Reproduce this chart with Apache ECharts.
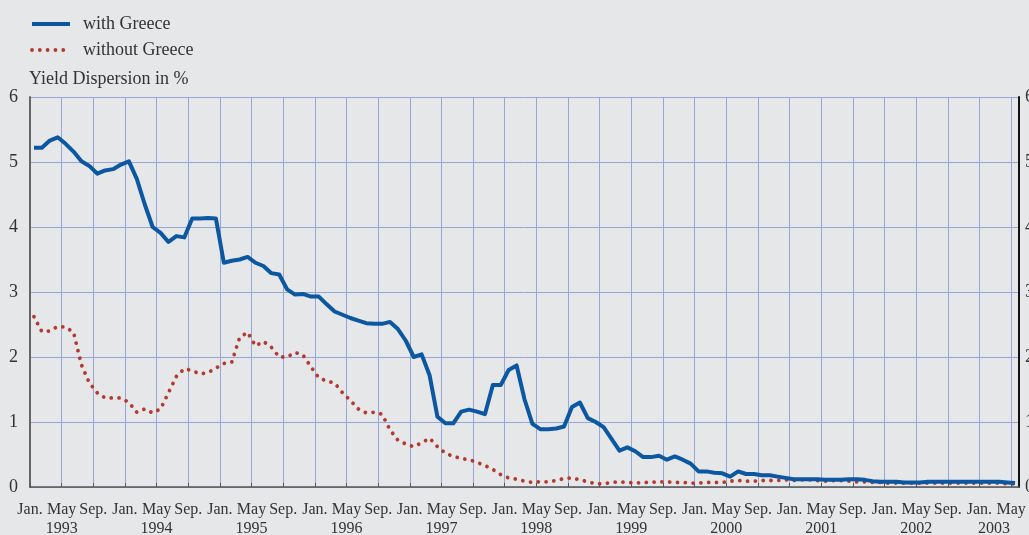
<!DOCTYPE html>
<html>
<head>
<meta charset="utf-8">
<script src="https://cdn.jsdelivr.net/npm/echarts@6/dist/echarts.min.js"></script>
<style>
html,body{margin:0;padding:0;background:#e6e7e9;}
#chart{width:1029px;height:535px;}
</style>
</head>
<body>
<div id="chart"></div>
<script>
// monthly yield dispersion, Jan. 1993 .. May 2003
var startYear = 1993;
var monthNames = ['Jan.', '', '', '', 'May', '', '', '', 'Sep.', '', '', ''];
var withGreece = [
  5.22,5.22,5.33,5.38,5.28,5.16,5.01,4.94,4.82,4.87,4.89,4.96,
  5.01,4.74,4.35,4.00,3.91,3.77,3.86,3.84,4.13,4.13,4.14,4.13,
  3.45,3.48,3.50,3.54,3.45,3.40,3.29,3.27,3.04,2.96,2.97,2.93,
  2.93,2.81,2.70,2.65,2.60,2.56,2.52,2.51,2.51,2.54,2.43,2.25,
  2.00,2.04,1.72,1.08,0.98,0.98,1.16,1.19,1.16,1.12,1.57,1.57,
  1.80,1.87,1.35,0.97,0.89,0.89,0.90,0.93,1.23,1.30,1.06,1.00,
  0.92,0.74,0.56,0.61,0.55,0.46,0.46,0.48,0.42,0.47,0.42,0.36,
  0.24,0.24,0.22,0.21,0.16,0.24,0.20,0.20,0.18,0.18,0.16,0.14,
  0.12,0.12,0.12,0.12,0.11,0.11,0.11,0.12,0.12,0.11,0.09,0.08,
  0.08,0.08,0.07,0.07,0.07,0.08,0.08,0.08,0.08,0.08,0.08,0.08,
  0.08,0.08,0.08,0.07,0.06
];
var withoutGreece = [
  2.62,2.39,2.40,2.47,2.46,2.38,1.88,1.60,1.45,1.37,1.37,1.37,
  1.30,1.15,1.20,1.14,1.20,1.45,1.70,1.82,1.79,1.74,1.76,1.83,
  1.90,1.92,2.30,2.38,2.17,2.24,2.15,2.00,2.00,2.07,2.03,1.85,
  1.68,1.63,1.60,1.45,1.33,1.20,1.14,1.15,1.12,0.88,0.72,0.66,
  0.62,0.68,0.75,0.62,0.52,0.47,0.44,0.42,0.38,0.33,0.27,0.19,
  0.14,0.12,0.09,0.07,0.08,0.08,0.10,0.13,0.14,0.11,0.08,0.05,
  0.05,0.07,0.08,0.07,0.06,0.07,0.07,0.08,0.08,0.07,0.07,0.06,
  0.06,0.07,0.07,0.07,0.09,0.10,0.09,0.09,0.10,0.10,0.10,0.11,
  0.10,0.11,0.11,0.10,0.09,0.10,0.10,0.09,0.08,0.08,0.07,0.07,
  0.06,0.06,0.06,0.06,0.06,0.06,0.06,0.06,0.06,0.06,0.06,0.06,
  0.06,0.06,0.06,0.05,0.05
];
var yTicks = [0, 1, 2, 3, 4, 5, 6];

var font = '"Liberation Serif", "DejaVu Serif", serif';
var gridColor = '#97a5d8';
var blue = '#0b57a1';
var red = '#b23a30';
var blueLine = {color:blue, width:4, join:'round'};
var redLine = {color:red, width:3.8, type:[0.01, 7.8], cap:'round'};
var lastMonth = withGreece.length - 1;

// each monthly value sits in the middle of its month
function toPoints(arr){
  var out = [];
  for(var i=0;i<arr.length;i++) out.push([i + 0.5, arr[i]]);
  return out;
}

var chart = echarts.init(document.getElementById('chart'));
chart.setOption({
  backgroundColor:'#e6e7e9',
  animation:false,
  title:{
    text:'Yield Dispersion in %',
    left:24, top:65,
    textStyle:{fontFamily:font, fontSize:18, fontWeight:'normal', color:'#333'}
  },
  legend:{
    orient:'vertical',
    left:25, top:10,
    itemWidth:38, itemHeight:14, itemGap:8,
    itemStyle:{color:'rgba(0,0,0,0)', borderColor:'rgba(0,0,0,0)', borderWidth:0},
    textStyle:{fontFamily:font, fontSize:18, color:'#333', padding:[0,0,0,8]},
    data:[
      {name:'with Greece', lineStyle:blueLine},
      {name:'without Greece', lineStyle:redLine}
    ]
  },
  grid:{left:30, right:10, top:97, bottom:48, outerBoundsMode:'none', containLabel:false},
  xAxis:{
    type:'value',
    min:0, max:125, interval:4,
    axisLine:{show:true, onZero:false, lineStyle:{color:'#555', width:1.5}},
    axisTick:{show:true, inside:true, length:4, lineStyle:{color:'#555'}},
    splitLine:{show:true, lineStyle:{color:gridColor, width:1}},
    axisLabel:{
      fontFamily:font, fontSize:16, color:'#333', margin:13, lineHeight:19,
      showMaxLabel:false,
      rich:{
        last:{fontFamily:font, fontSize:16, color:'#333', lineHeight:19, padding:[0,34,0,0]}
      },
      formatter:function(v){
        if(v % 4 !== 0) return '';
        var m = v % 12;
        var y = startYear + Math.floor(v / 12);
        if(v === lastMonth) return 'May\n{last|' + y + '}';
        if(m === 4) return 'May\n' + y;
        return monthNames[m];
      }
    }
  },
  yAxis:[{
    type:'value',
    min:0, max:6, interval:1,
    axisLine:{show:true, lineStyle:{color:'#666', width:2}},
    axisTick:{show:false},
    splitLine:{show:true, lineStyle:{color:gridColor, width:1}},
    axisLabel:{fontFamily:font, fontSize:18, color:'#333', margin:12,
      formatter:function(v){ return yTicks.indexOf(v) >= 0 ? String(v) : ''; }}
  },{
    type:'value',
    position:'right',
    min:0, max:6, interval:1,
    axisLine:{show:true, lineStyle:{color:'#111', width:2}},
    axisTick:{show:false},
    splitLine:{show:false},
    axisLabel:{fontFamily:font, fontSize:18, color:'#333', margin:6}
  }],
  series:[{
    name:'with Greece',
    type:'line',
    data:toPoints(withGreece),
    symbol:'none',
    lineStyle:blueLine,
    itemStyle:{color:blue},
    z:3
  },{
    name:'without Greece',
    type:'line',
    data:toPoints(withoutGreece),
    symbol:'none',
    lineStyle:redLine,
    itemStyle:{color:red},
    z:2
  }]
});
</script>
</body>
</html>
